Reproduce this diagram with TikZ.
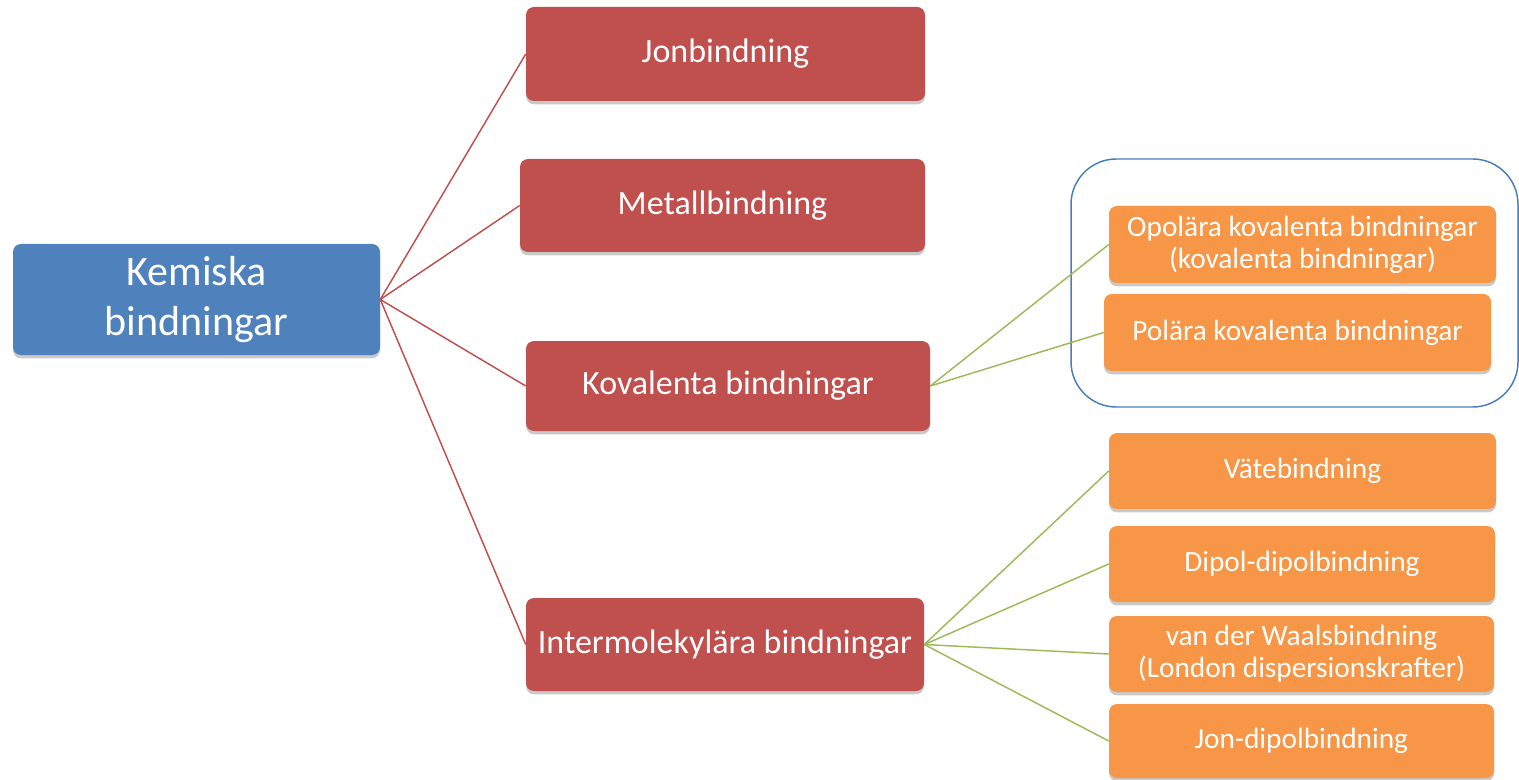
\documentclass[tikz,border=0pt]{standalone}
\usepackage{fontspec}
\setmainfont{Carlito}
\usetikzlibrary{shadows}
\definecolor{rootblue}{HTML}{4F81BD}
\definecolor{boxred}{HTML}{C0504D}
\definecolor{boxorange}{HTML}{F79646}
\definecolor{linkgreen}{HTML}{9BBB59}
\definecolor{framblue}{HTML}{4A7EBB}
\tikzset{
  sz/.style 2 args={minimum width=#1*0.75pt, minimum height=#2*0.75pt},
  card/.style={rounded corners=6pt, inner sep=0pt, align=center, text=white,
    drop shadow={shadow xshift=0pt, shadow yshift=-2.5pt, opacity=0.3, fill=black!70}},
  rootbox/.style={card, fill=rootblue, font=\fontsize{31.5}{37}\selectfont},
  mainbox/.style={card, fill=boxred, font=\fontsize{25.5}{30}\selectfont},
  subbox/.style={card, fill=boxorange, font=\fontsize{22}{24}\selectfont},
  redlink/.style={draw=boxred, line width=1.1pt},
  greenlink/.style={draw=linkgreen, line width=1.1pt},
}
\begin{document}
\begin{tikzpicture}[x=0.75pt, y=-0.75pt]
\useasboundingbox (0,0) rectangle (1519,780);

% frame around the two covalent sub-types
\draw[framblue, line width=1.1pt, rounded corners=34pt] (1071,159) rectangle (1518,407);

% root
\node[rootbox, sz={367}{111}] (kem) at (196.5,299.5) {Kemiska\\bindningar};

% main bond types
\node[mainbox, sz={399}{94}] (jon) at (725.5,54) {Jonbindning};
\node[mainbox, sz={405}{93}] (met) at (722.5,205.5) {Metallbindning};
\node[mainbox, sz={404}{90}] (kov) at (728,386) {Kovalenta bindningar};
\node[mainbox, sz={398}{93}] (inter) at (725,644.5) {Intermolekylära bindningar};

% covalent sub-types
\node[subbox, sz={387}{77}] (opo) at (1302.5,244.5) {Opolära kovalenta bindningar\\(kovalenta bindningar)};
\node[subbox, sz={387}{77}] (pol) at (1297.5,332.5) {Polära kovalenta bindningar};

% intermolecular sub-types
\node[subbox, sz={387}{76}] (vate) at (1302.5,471) {Vätebindning};
\node[subbox, sz={386}{76}] (dip) at (1302,564) {Dipol-dipolbindning};
\node[subbox, sz={385}{76}] (vdw) at (1301.5,654) {van der Waalsbindning\\(London dispersionskrafter)};
\node[subbox, sz={385}{74}] (jdp) at (1301.5,741) {Jon-dipolbindning};

% connectors
\foreach \t in {jon,met,kov,inter}
  \draw[redlink] (kem.east) -- (\t.west);
\foreach \t in {opo,pol}
  \draw[greenlink] (kov.east) -- (\t.west);
\foreach \t in {vate,dip,vdw,jdp}
  \draw[greenlink] (inter.east) -- (\t.west);
\end{tikzpicture}
\end{document}
